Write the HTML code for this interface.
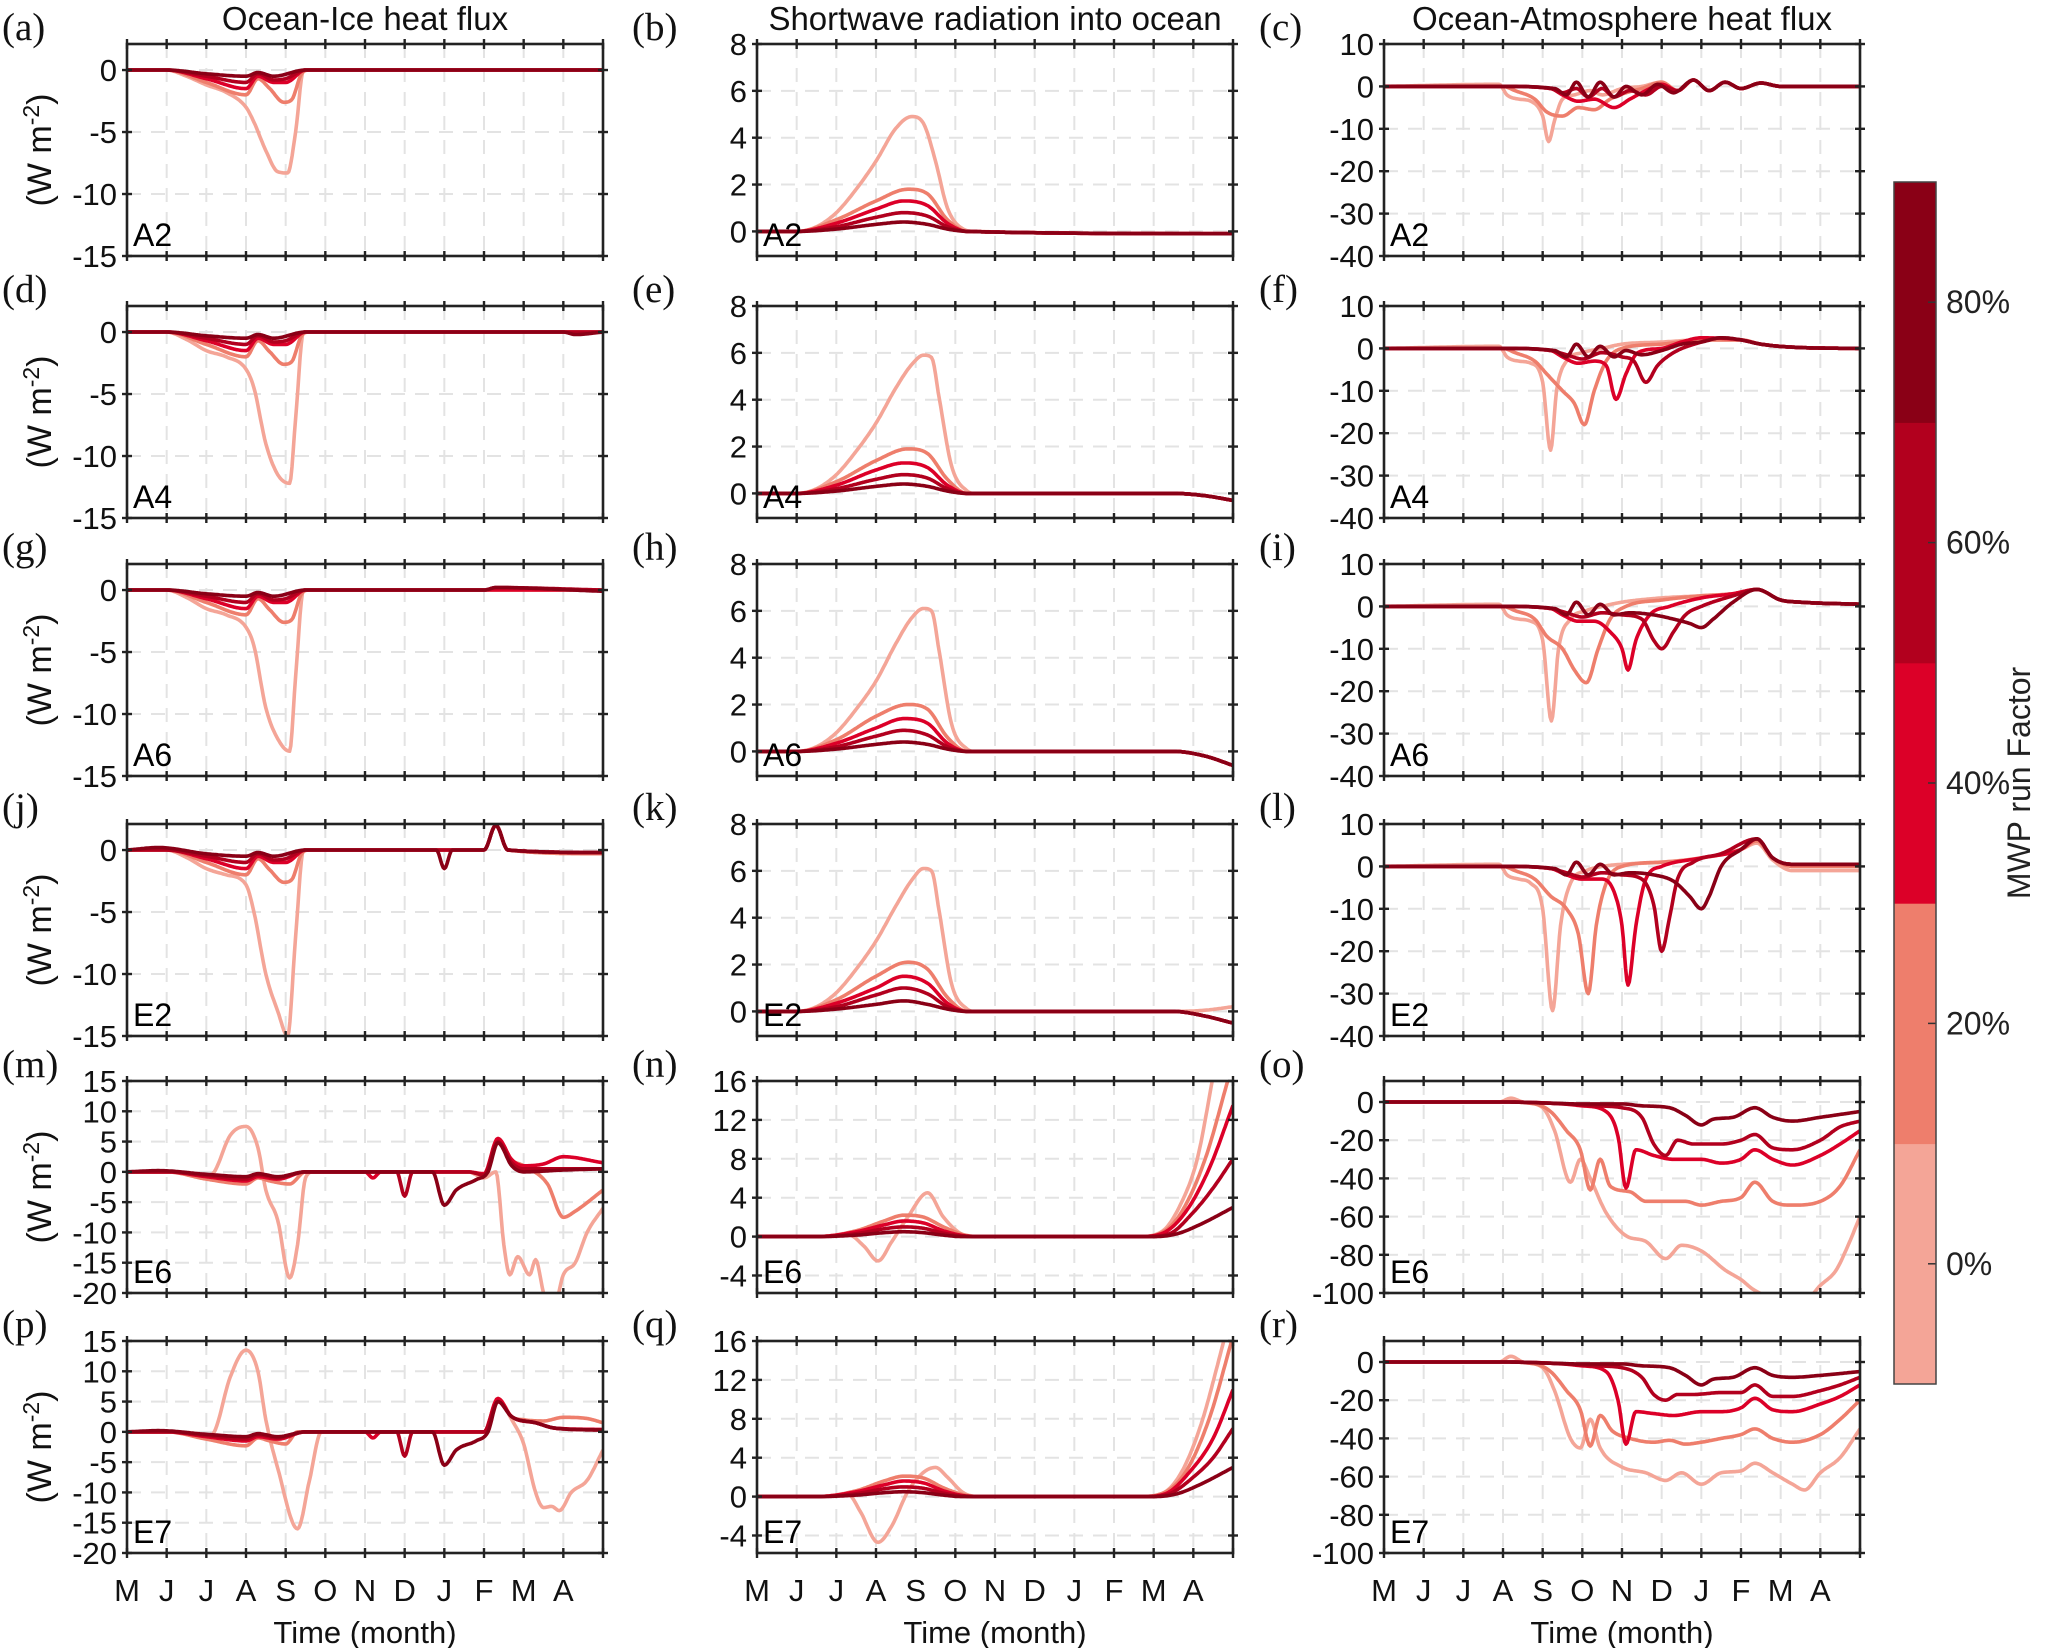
<!DOCTYPE html>
<html><head><meta charset="utf-8">
<style>
body{margin:0;background:#fff;}
svg{display:block;font-family:"Liberation Sans",sans-serif;}
</style></head>
<body>
<svg id="fig" width="2067" height="1648" viewBox="0 0 2067 1648" xmlns="http://www.w3.org/2000/svg"></svg>
<script>
// ---- data (time in months from 1 May, value in W m-2) ----
const monthLabels = ["M","J","J","A","S","O","N","D","J","F","M","A"];
const seriesNames = ["0%","20%","40%","60%","80%"];
const seriesColors = ["#f4a597","#ee7e6c","#dc0028","#b2001e","#8a0016"];
const panelLetters = ["a","b","c","d","e","f","g","h","i","j","k","l","m","n","o","p","q","r"];
const runNames = ["A2","A4","A6","E2","E6","E7"];
const colTitles = ["Ocean-Ice heat flux","Shortwave radiation into ocean","Ocean-Atmosphere heat flux"];
const cbTicks = ["0%","20%","40%","60%","80%"];

// column 1 : Ocean-Ice heat flux
const a_s0=[[0,0],[1,0],[1.5,-0.5],[2,-1.2],[2.5,-1.8],[3,-3],[3.2,-4.2],[3.5,-6.5],[3.8,-8.2],[4.05,-8.3],[4.25,-5],[4.45,0],[12,0]];
const a_s1=[[0,0],[1,0],[2,-1],[3,-2],[3.3,-0.7],[3.6,-1.5],[3.95,-2.6],[4.15,-2.4],[4.4,-0.3],[4.6,0],[12,0]];
const a_s2=[[0,0],[1,0],[2,-0.7],[3,-1.5],[3.3,-0.5],[3.7,-1],[4,-1],[4.5,0],[12,0]];
const a_s3=[[0,0],[1,0],[2,-0.5],[3,-1],[3.3,-0.3],[3.7,-0.8],[4,-0.7],[4.5,0],[12,0]];
const a_s4=[[0,0],[1,0],[2,-0.3],[3,-0.5],[3.3,-0.2],[3.7,-0.5],[4.5,0],[12,0]];
const d_s0=[[0,0],[1,0],[1.5,-0.6],[2,-1.5],[2.5,-2],[3,-3],[3.2,-4.5],[3.5,-9],[3.8,-11.5],[4.1,-12.2],[4.25,-7],[4.45,0],[12,0]];
const d_s1=[[0,0],[1,0],[2,-1],[3,-2],[3.3,-0.7],[3.6,-1.6],[3.95,-2.6],[4.15,-2.4],[4.4,-0.3],[4.6,0],[12,0]];
const d_s2=[[0,0],[1,0],[2,-0.7],[3,-1.5],[3.3,-0.5],[3.7,-1],[4,-1],[4.5,0],[12,0]];
const d_s3=[[0,0],[1,0],[2,-0.5],[3,-1],[3.3,-0.3],[3.7,-0.8],[4,-0.7],[4.5,0],[12,0]];
const d_s4=[[0,0],[1,0],[2,-0.3],[3,-0.5],[3.3,-0.2],[3.7,-0.5],[4.5,0],[11,0],[11.3,-0.2],[12,0]];
const g_s0=[[0,0],[1,0],[1.5,-0.6],[2,-1.5],[2.5,-2],[3,-3],[3.2,-4.5],[3.5,-9.5],[3.8,-12],[4.1,-13],[4.25,-7],[4.45,0],[12,0]];
const g_s1=[[0,0],[1,0],[2,-1],[3,-2],[3.3,-0.7],[3.6,-1.6],[3.95,-2.6],[4.15,-2.4],[4.4,-0.3],[4.6,0],[12,0]];
const g_s2=[[0,0],[1,0],[2,-0.7],[3,-1.5],[3.3,-0.5],[3.7,-1],[4,-1],[4.5,0],[12,0]];
const g_s3=[[0,0],[1,0],[2,-0.5],[3,-1],[3.3,-0.3],[3.7,-0.8],[4,-0.7],[4.5,0],[9,0],[9.3,0.2],[12,0]];
const g_s4=[[0,0],[1,0],[2,-0.3],[3,-0.5],[3.3,-0.2],[3.7,-0.5],[4.5,0],[9,0],[9.3,0.2],[12,-0.1]];
const j_s0=[[0,0],[1,0],[1.5,-0.6],[2,-1.5],[2.5,-2],[3,-2.8],[3.2,-5],[3.5,-10],[3.8,-13],[4.05,-15],[4.25,-7],[4.45,0],[9,0],[9.3,2],[9.6,0],[12,-0.3]];
const j_s1=[[0,0],[1,0],[2,-1],[3,-2],[3.3,-0.7],[3.6,-1.6],[3.95,-2.6],[4.15,-2.4],[4.4,-0.3],[4.6,0],[9,0],[9.3,2],[9.6,0],[12,-0.3]];
const j_s2=[[0,0],[1,0],[2,-0.7],[3,-1.5],[3.3,-0.5],[3.7,-1],[4,-1],[4.5,0],[9,0],[9.3,2],[9.6,0],[12,-0.2]];
const j_s3=[[0,0],[1,0],[2,-0.5],[3,-1],[3.3,-0.3],[3.7,-0.8],[4,-0.7],[4.5,0],[9,0],[9.3,2],[9.6,0],[12,-0.2]];
const j_s4=[[0,0],[0.8,0.2],[2,-0.3],[3,-0.5],[3.3,-0.2],[3.7,-0.5],[4.5,0],[7.8,0],[8,-1.5],[8.2,0],[9,0],[9.3,2],[9.6,0],[12,-0.2]];
const m_s0=[[0,0],[1,0],[2,-0.8],[2.2,0],[2.6,6],[3,7.5],[3.3,4],[3.5,-3],[3.8,-8],[4.1,-17.5],[4.3,-12],[4.5,-1],[4.7,0],[8.6,0],[9,-1],[9.3,0],[9.5,-12],[9.65,-17],[9.85,-14],[10.15,-17],[10.3,-14.5],[10.5,-20],[10.7,-24],[11,-17],[11.3,-15],[11.6,-10],[12,-6]];
const m_s1=[[0,0],[1,0],[2,-1.2],[3,-2],[3.3,-1],[3.6,-1.5],[4.1,-2],[4.5,0],[8.6,0],[9,-0.5],[9.35,5.5],[9.7,2],[10,1],[10.6,-2],[11,-7.5],[11.3,-6.5],[12,-3]];
const m_s2=[[0,0],[1,0],[2,-0.8],[3,-1.5],[3.3,-0.8],[3.8,-1.2],[4.5,0],[6,0],[6.2,-1],[6.4,0],[8.6,0],[9,-0.3],[9.35,5.5],[9.7,2],[10,1],[10.5,1.3],[11,2.5],[12,1.5]];
const m_s3=[[0,0],[1,0],[2,-0.6],[3,-1.2],[3.3,-0.5],[3.8,-1],[4.5,0],[6.8,0],[7,-4],[7.2,0],[8.6,0],[9,-0.5],[9.35,5],[9.7,1.5],[10,0.5],[11,0.5],[12,0.5]];
const m_s4=[[0,0],[0.8,0.2],[2,-0.4],[3,-0.8],[3.3,-0.3],[3.8,-0.8],[4.5,0],[7.7,0],[8,-5.5],[8.3,-3],[8.8,-1.3],[9.1,0],[9.35,4.8],[9.7,1],[10,0],[11,0.3],[12,0.5]];
const p_s0=[[0,0],[1,0],[2,-0.8],[2.2,0],[2.6,9],[3,13.5],[3.3,10],[3.5,2],[3.8,-6],[4.3,-16],[4.6,-8],[4.9,0],[9,0],[9.35,5.5],[9.7,2],[10,-2],[10.3,-10],[10.5,-12.5],[10.7,-12.3],[10.9,-13],[11.2,-10],[11.6,-8],[12,-3]];
const p_s1=[[0,0],[1,0],[2,-1.2],[3,-2.3],[3.3,-1],[3.6,-1.5],[4,-2],[4.3,0],[9,0],[9.35,5.5],[9.7,2.5],[10,2],[10.5,1.8],[11,2.4],[11.6,2.2],[12,1.5]];
const p_s2=[[0,0],[1,0],[2,-0.8],[3,-1.5],[3.3,-0.8],[3.8,-1.2],[4.5,0],[6,0],[6.2,-1],[6.4,0],[9,0],[9.35,5.5],[9.7,2.5],[10.3,1.5],[10.8,0.6],[12,0.4]];
const p_s3=[[0,0],[1,0],[2,-0.6],[3,-1.2],[3.3,-0.5],[3.8,-1],[4.5,0],[6.8,0],[7,-4],[7.2,0],[9,0],[9.35,5],[9.7,2.5],[10.3,1.5],[10.8,0.6],[12,0.3]];
const p_s4=[[0,0],[0.8,0.2],[2,-0.4],[3,-0.8],[3.3,-0.3],[3.8,-0.8],[4.5,0],[7.7,0],[8,-5.5],[8.3,-3],[8.8,-1.5],[9.1,0],[9.35,5],[9.7,2.5],[10.3,1.5],[10.8,0.6],[12,0.3]];
// column 2 : Shortwave
const b_s0=[[0,0],[1,0],[1.5,0.2],[2,0.8],[2.5,1.8],[3,3],[3.5,4.4],[3.9,4.9],[4.2,4.6],[4.5,3],[4.8,1],[5.2,0.1],[5.5,0],[12,-0.1]];
const b_s1=[[0,0],[1,0],[2,0.5],[3,1.3],[3.8,1.8],[4.3,1.6],[4.8,0.5],[5.3,0],[12,-0.1]];
const b_s2=[[0,0],[1,0],[2,0.35],[3,0.95],[3.7,1.3],[4.3,1.1],[4.8,0.35],[5.3,0],[12,-0.1]];
const b_s3=[[0,0],[1,0],[2,0.2],[3,0.6],[3.7,0.8],[4.3,0.65],[4.8,0.2],[5.3,0],[12,-0.1]];
const b_s4=[[0,0],[1,0],[2,0.1],[3,0.3],[3.7,0.4],[4.3,0.3],[4.8,0.1],[5.3,0],[12,-0.1]];
const e_s0=[[0,0],[1,0],[1.5,0.2],[2,0.8],[2.5,1.8],[3,3],[3.5,4.5],[3.9,5.5],[4.2,5.9],[4.4,5.8],[4.6,4],[4.9,1.2],[5.3,0.1],[5.5,0],[10.5,0],[11.3,-0.1],[12,-0.3]];
const e_s1=[[0,0],[1,0],[2,0.5],[3,1.4],[3.8,1.9],[4.3,1.7],[4.8,0.6],[5.3,0],[10.5,0],[11.3,-0.1],[12,-0.3]];
const e_s2=[[0,0],[1,0],[2,0.35],[3,1],[3.7,1.3],[4.3,1.1],[4.8,0.35],[5.3,0],[10.5,0],[11.3,-0.1],[12,-0.3]];
const e_s3=[[0,0],[1,0],[2,0.2],[3,0.6],[3.7,0.8],[4.3,0.65],[4.8,0.2],[5.3,0],[10.5,0],[11.3,-0.1],[12,-0.3]];
const e_s4=[[0,0],[1,0],[2,0.1],[3,0.3],[3.7,0.4],[4.3,0.3],[4.8,0.1],[5.3,0],[10.5,0],[11.3,-0.1],[12,-0.3]];
const h_s0=[[0,0],[1,0],[1.5,0.2],[2,0.8],[2.5,1.8],[3,3],[3.5,4.6],[3.9,5.7],[4.2,6.1],[4.4,6],[4.6,4.2],[4.9,1.2],[5.3,0.1],[5.5,0],[10.5,0],[11.3,-0.2],[12,-0.6]];
const h_s1=[[0,0],[1,0],[2,0.5],[3,1.5],[3.8,2],[4.3,1.8],[4.8,0.6],[5.3,0],[10.5,0],[11.3,-0.2],[12,-0.6]];
const h_s2=[[0,0],[1,0],[2,0.35],[3,1],[3.7,1.4],[4.3,1.2],[4.8,0.35],[5.3,0],[10.5,0],[11.3,-0.2],[12,-0.6]];
const h_s3=[[0,0],[1,0],[2,0.2],[3,0.65],[3.7,0.9],[4.3,0.7],[4.8,0.2],[5.3,0],[10.5,0],[11.3,-0.2],[12,-0.6]];
const h_s4=[[0,0],[1,0],[2,0.1],[3,0.3],[3.7,0.4],[4.3,0.3],[4.8,0.1],[5.3,0],[10.5,0],[11.3,-0.2],[12,-0.6]];
const k_s0=[[0,0],[1,0],[1.5,0.2],[2,0.8],[2.5,1.8],[3,3],[3.5,4.5],[3.9,5.6],[4.2,6.1],[4.4,6],[4.6,4.2],[4.9,1.2],[5.3,0.1],[5.5,0],[10.5,0],[11.3,0.05],[12,0.2]];
const k_s1=[[0,0],[1,0],[2,0.5],[3,1.5],[3.8,2.1],[4.3,1.8],[4.8,0.6],[5.3,0],[10.5,0],[11.3,-0.2],[12,-0.5]];
const k_s2=[[0,0],[1,0],[2,0.35],[3,1],[3.7,1.5],[4.3,1.2],[4.8,0.35],[5.3,0],[10.5,0],[11.3,-0.2],[12,-0.5]];
const k_s3=[[0,0],[1,0],[2,0.2],[3,0.7],[3.7,1],[4.3,0.75],[4.8,0.2],[5.3,0],[10.5,0],[11.3,-0.2],[12,-0.5]];
const k_s4=[[0,0],[1,0],[2,0.1],[3,0.3],[3.7,0.45],[4.3,0.3],[4.8,0.1],[5.3,0],[10.5,0],[11.3,-0.2],[12,-0.5]];
const n_s0=[[0,0],[1.5,0],[2.3,0.2],[2.7,-1],[3.05,-2.5],[3.4,-0.5],[3.8,2],[4.3,4.5],[4.7,2],[5.2,0.2],[5.6,0],[9.6,0],[10.2,0.5],[10.7,3.5],[11.1,8],[11.5,16.5]];
const n_s1=[[0,0],[1.5,0],[2.5,0.6],[3.2,1.6],[3.7,2.2],[4.2,2],[4.7,1],[5.2,0.2],[5.6,0],[9.6,0],[10.2,0.4],[10.7,2.5],[11.3,8],[11.9,16.5]];
const n_s2=[[0,0],[1.5,0],[2.5,0.5],[3.2,1.2],[3.7,1.6],[4.2,1.4],[4.7,0.6],[5.2,0.1],[5.6,0],[9.6,0],[10.2,0.3],[10.8,2.5],[11.4,7],[12,13.5]];
const n_s3=[[0,0],[1.5,0],[2.5,0.3],[3.2,0.8],[3.7,1],[4.2,0.85],[4.7,0.35],[5.2,0.05],[5.6,0],[9.8,0],[10.4,0.3],[11,2.5],[11.5,5],[12,8]];
const n_s4=[[0,0],[1.5,0],[2.5,0.15],[3.2,0.4],[3.7,0.5],[4.2,0.4],[4.7,0.15],[5.2,0],[10,0],[10.6,0.3],[11.2,1.3],[12,3]];
const q_s0=[[0,0],[1.5,0],[2.3,0.2],[2.6,-1.5],[3.05,-4.7],[3.4,-3],[3.8,0.5],[4.2,2.5],[4.5,3],[4.8,2],[5.2,0.4],[5.6,0],[9.6,0],[10.2,0.3],[10.7,2.5],[11.2,7.5],[11.8,16.5]];
const q_s1=[[0,0],[1.5,0],[2.5,0.6],[3.2,1.6],[3.7,2.1],[4.2,1.9],[4.7,0.9],[5.2,0.2],[5.6,0],[9.6,0],[10.2,0.3],[10.8,2.5],[11.4,8],[12,16.5]];
const q_s2=[[0,0],[1.5,0],[2.5,0.5],[3.2,1.2],[3.7,1.6],[4.2,1.4],[4.7,0.6],[5.2,0.1],[5.6,0],[9.7,0],[10.3,0.3],[10.9,2.5],[11.5,6],[12,11]];
const q_s3=[[0,0],[1.5,0],[2.5,0.3],[3.2,0.8],[3.7,1],[4.2,0.85],[4.7,0.35],[5.2,0.05],[5.6,0],[9.8,0],[10.4,0.3],[11,2],[11.5,4],[12,7]];
const q_s4=[[0,0],[1.5,0],[2.5,0.15],[3.2,0.4],[3.7,0.5],[4.2,0.4],[4.7,0.15],[5.2,0],[10,0],[10.6,0.3],[11.2,1.3],[12,3]];
// column 3 : Ocean-Atmosphere
const c_s0=[[0,0],[2.9,0.5],[3.1,-2],[3.4,-3],[3.7,-3.5],[4,-7],[4.15,-13],[4.3,-8],[4.5,-3],[4.8,-2],[5.2,-1],[5.5,-2],[6,-0.5],[6.5,0],[7,1],[7.4,-1],[7.8,1.5],[8.2,-1],[8.6,1],[9,-0.5],[9.5,0.8],[10,0],[12,0]];
const c_s1=[[0,0],[3,0],[3.3,-1],[3.8,-3],[4.1,-6],[4.5,-7],[4.9,-5],[5.3,-5.5],[5.7,-3],[6.1,-1.5],[6.5,-0.5],[7,1],[7.4,-1],[7.8,1.5],[8.2,-1],[8.6,1],[9,-0.5],[9.5,0.8],[10,0],[12,0]];
const c_s2=[[0,0],[3,0],[4.2,-0.5],[4.5,-2],[4.9,-3.5],[5.3,-3],[5.8,-5],[6.2,-3],[6.6,-1],[7,0.5],[7.4,-1],[7.8,1.5],[8.2,-1],[8.6,1],[9,-0.5],[9.5,0.8],[10,0],[12,0]];
const c_s3=[[0,0],[3,0],[4.2,-0.5],[4.5,-1.5],[4.85,-0.5],[5.15,-2.5],[5.5,-0.5],[5.8,-2.5],[6.2,-1],[6.6,-2],[7,0],[7.4,-1],[7.8,1.5],[8.2,-1],[8.6,1],[9,-0.5],[9.5,0.8],[10,0],[12,0]];
const c_s4=[[0,0],[3,0],[4.3,-0.5],[4.6,-2],[4.85,1],[5.15,-2.5],[5.45,1],[5.8,-2.5],[6.1,0],[6.5,-2],[6.9,0.5],[7.3,-1.5],[7.8,1.5],[8.2,-1],[8.6,1],[9,-0.5],[9.5,0.8],[10,0],[12,0]];
const f_s0=[[0,0],[2.9,0.5],[3.1,-2],[3.4,-3],[3.7,-3.5],[4,-8],[4.2,-24],[4.35,-10],[4.6,-3],[5,-1],[5.5,0],[6,1],[7,1.5],[8,2],[9,2],[9.5,1],[10.5,0.2],[12,0]];
const f_s1=[[0,0],[3,0],[3.3,-1],[3.8,-3],[4.1,-6],[4.5,-10],[4.8,-13],[5.05,-18],[5.3,-10],[5.6,-3],[6,0],[7,1],[8,2],[9,2],[9.5,1],[10.5,0.2],[12,0]];
const f_s2=[[0,0],[3,0],[4.2,-0.5],[4.5,-2],[4.9,-3.5],[5.3,-3],[5.6,-4],[5.85,-12],[6.1,-6],[6.4,-1],[7,0],[7.5,1.5],[8,2.5],[9,2],[9.5,1],[10.5,0.2],[12,0]];
const f_s3=[[0,0],[3,0],[4.2,-0.5],[4.6,-1.5],[5,-2.5],[5.5,-1],[6,-2],[6.3,-3],[6.6,-8],[6.9,-4],[7.3,-1],[8,1.5],[8.5,2.5],[9,2],[9.5,1],[10.5,0.2],[12,0]];
const f_s4=[[0,0],[3,0],[4.3,-0.5],[4.6,-2],[4.85,1],[5.15,-2],[5.45,0.5],[5.8,-2],[6.1,-0.5],[6.5,-1.5],[7,-0.5],[7.5,1],[8,1.5],[8.5,2.5],[9,2],[9.5,1],[10.5,0.2],[12,0]];
const i_s0=[[0,0],[2.9,0.5],[3.1,-2],[3.4,-3],[3.7,-3.5],[4,-8],[4.22,-27],[4.4,-10],[4.7,-3],[5.1,-1],[5.5,0],[6,1],[7,2],[8,2.5],[8.8,3],[9.4,4],[10,1.5],[10.5,1],[12,0.5]];
const i_s1=[[0,0],[3,0],[3.3,-1],[3.8,-3],[4.1,-7],[4.5,-10],[4.8,-15],[5.1,-18],[5.4,-10],[5.7,-3],[6.1,0],[7,1.5],[8,2.5],[8.8,3],[9.4,4],[10,1.5],[10.5,1],[12,0.5]];
const i_s2=[[0,0],[3,0],[4.2,-0.5],[4.5,-2],[4.9,-3.5],[5.3,-3.5],[5.7,-6],[6,-10],[6.15,-15],[6.35,-8],[6.7,-2],[7.2,0],[8,2],[8.8,3],[9.4,4],[10,1.5],[10.5,1],[12,0.5]];
const i_s3=[[0,0],[3,0],[4.2,-0.5],[4.6,-1.5],[5,-2.5],[5.5,-1.5],[6,-2],[6.5,-3],[6.8,-8],[7,-10],[7.3,-6],[7.6,-2],[8,0],[8.8,2.5],[9.4,4],[10,1.5],[10.5,1],[12,0.5]];
const i_s4=[[0,0],[3,0],[4.3,-0.5],[4.6,-2],[4.85,1],[5.15,-2],[5.45,0.5],[5.8,-2],[6.2,-1.5],[6.8,-2],[7.3,-3],[7.7,-4],[8,-5],[8.3,-3],[8.8,1],[9.4,4],[10,1.5],[10.5,1],[12,0.5]];
const l_s0=[[0,0],[2.9,0.5],[3.1,-2],[3.4,-3],[3.7,-4],[4,-10],[4.25,-34],[4.45,-14],[4.7,-4],[5.1,-1],[5.5,0],[6,0.5],[7,1],[8,2],[9,4],[9.4,5.5],[9.8,1.5],[10.3,-1],[12,-1]];
const l_s1=[[0,0],[3,0],[3.3,-1],[3.8,-3],[4.2,-7],[4.6,-10],[4.9,-16],[5.15,-30],[5.35,-14],[5.6,-4],[6,0],[7,1],[8,2],[9,4],[9.4,6],[9.8,2],[10.3,0],[12,0]];
const l_s2=[[0,0],[3,0],[4.2,-0.5],[4.6,-2],[5,-3],[5.5,-3],[5.8,-6],[6.0,-14],[6.15,-28],[6.35,-14],[6.6,-3],[7,0],[8,2],[9,4],[9.4,6.5],[9.8,2],[10.3,0.5],[12,0.5]];
const l_s3=[[0,0],[3,0],[4.2,-0.5],[4.6,-1.5],[5,-2.5],[5.5,-1.5],[6,-2],[6.5,-3],[6.8,-9],[7,-20],[7.2,-12],[7.4,-3],[7.8,1],[8.5,3],[9.4,6.5],[9.8,2],[10.3,0.5],[12,0.5]];
const l_s4=[[0,0],[3,0],[4.3,-0.5],[4.6,-2],[4.85,1],[5.15,-2],[5.45,0.5],[5.8,-2],[6.2,-1.5],[6.8,-2],[7.3,-3.5],[7.7,-7],[8,-10],[8.2,-7],[8.5,0],[9,4],[9.4,6.5],[9.8,2],[10.3,0.5],[12,0.5]];
const o_s0=[[0,0],[2.9,0],[3.2,2],[3.5,0],[4,-3],[4.3,-15],[4.7,-42],[4.95,-30],[5.2,-40],[5.6,-58],[6.1,-70],[6.6,-73],[7.1,-82],[7.5,-75],[8,-78],[8.6,-88],[9,-93],[9.3,-98],[9.7,-102],[10.6,-104],[11,-96],[11.4,-88],[11.7,-75],[12,-60]];
const o_s1=[[0,0],[3,0],[3.8,-1],[4.2,-5],[4.6,-15],[4.95,-25],[5.2,-46],[5.45,-30],[5.7,-44],[6.2,-47],[6.6,-52],[7.2,-52],[7.6,-52],[8,-54],[8.5,-52],[9,-50],[9.35,-42],[9.8,-52],[10.3,-54],[11,-52],[11.5,-44],[12,-25]];
const o_s2=[[0,0],[3,0],[4.5,-1],[5,-2],[5.6,-5],[5.9,-18],[6.1,-45],[6.35,-25],[6.8,-28],[7.3,-30],[8,-30],[8.5,-32],[9,-30],[9.35,-25],[9.8,-30],[10.3,-33],[11,-28],[11.5,-22],[12,-15]];
const o_s3=[[0,0],[3,0],[4.6,-1],[5.3,-2],[6,-3],[6.5,-8],[6.8,-22],[7.1,-28],[7.4,-20],[7.8,-22],[8.5,-22],[9,-20],[9.35,-17],[9.8,-24],[10.3,-25],[11,-20],[11.5,-13],[12,-10]];
const o_s4=[[0,0],[3,0],[5,-1],[6,-1],[6.5,-2],[7.2,-3],[7.6,-7],[8,-12],[8.3,-9],[8.8,-8],[9.35,-3],[9.8,-8],[10.3,-10],[11,-8],[12,-5]];
const r_s0=[[0,0],[2.9,0],[3.2,3],[3.5,0],[4,-3],[4.3,-15],[4.7,-40],[4.95,-45],[5.2,-30],[5.45,-45],[6,-55],[6.6,-58],[7.1,-62],[7.5,-58],[8,-64],[8.5,-58],[9,-57],[9.35,-53],[9.8,-58],[10.3,-64],[10.6,-67],[11,-58],[11.5,-50],[12,-35]];
const r_s1=[[0,0],[3,0],[3.8,-1],[4.2,-5],[4.6,-15],[4.95,-25],[5.2,-44],[5.45,-28],[5.75,-36],[6.2,-40],[6.8,-42],[7.2,-41],[7.6,-43],[8,-42],[8.5,-40],[9,-38],[9.35,-35],[9.8,-40],[10.3,-42],[11,-38],[11.5,-30],[12,-20]];
const r_s2=[[0,0],[3,0],[4.5,-1],[5,-2],[5.6,-5],[5.9,-20],[6.1,-43],[6.35,-26],[6.8,-27],[7.3,-28],[8,-26],[8.5,-26],[9,-24],[9.35,-19],[9.8,-25],[10.3,-26],[11,-22],[11.5,-18],[12,-12]];
const r_s3=[[0,0],[3,0],[4.6,-1],[5.3,-2],[6,-3],[6.5,-8],[6.8,-17],[7.1,-20],[7.4,-17],[7.8,-17],[8.5,-16],[9,-16],[9.35,-12],[9.8,-18],[10.3,-18],[11,-15],[11.5,-12],[12,-8]];
const r_s4=[[0,0],[3,0],[5,-1],[6,-1],[6.5,-2],[7.2,-3],[7.6,-7],[8,-12],[8.3,-9],[8.8,-8],[9.35,-3],[9.8,-7],[10.3,-8],[11,-7],[12,-5]];

const panelSeries=[[a_s0,a_s1,a_s2,a_s3,a_s4],[b_s0,b_s1,b_s2,b_s3,b_s4],[c_s0,c_s1,c_s2,c_s3,c_s4],
[d_s0,d_s1,d_s2,d_s3,d_s4],[e_s0,e_s1,e_s2,e_s3,e_s4],[f_s0,f_s1,f_s2,f_s3,f_s4],
[g_s0,g_s1,g_s2,g_s3,g_s4],[h_s0,h_s1,h_s2,h_s3,h_s4],[i_s0,i_s1,i_s2,i_s3,i_s4],
[j_s0,j_s1,j_s2,j_s3,j_s4],[k_s0,k_s1,k_s2,k_s3,k_s4],[l_s0,l_s1,l_s2,l_s3,l_s4],
[m_s0,m_s1,m_s2,m_s3,m_s4],[n_s0,n_s1,n_s2,n_s3,n_s4],[o_s0,o_s1,o_s2,o_s3,o_s4],
[p_s0,p_s1,p_s2,p_s3,p_s4],[q_s0,q_s1,q_s2,q_s3,q_s4],[r_s0,r_s1,r_s2,r_s3,r_s4]];
const yTicksTop=[[0,-5,-10,-15],[0,2,4,6,8],[10,0,-10,-20,-30,-40]];
const yTicksBot=[[15,10,5,0,-5,-10,-15,-20],[16,12,8,4,0,-4],[0,-20,-40,-60,-80,-100]];
const yRangeTop=[[-15,2.1],[-1.05,8],[-40,10]];
const yRangeBot=[[-20,15],[-5.8,16],[-100,11]];

// ---- layout ----
const NS="http://www.w3.org/2000/svg";
const svg=document.getElementById('fig');
const colX=[127,757,1384], colW=476;
const rowY=[44,306,564,824,1081,1341], rowH=212;
function el(tag,attrs,parent){const e=document.createElementNS(NS,tag);for(const k in attrs)e.setAttribute(k,attrs[k]);(parent||svg).appendChild(e);return e;}
function txt(s,attrs,parent){const t=el('text',attrs,parent);t.textContent=s;return t;}

function monotone(pts){
  const n=pts.length,x=pts.map(p=>p[0]),y=pts.map(p=>p[1]);
  const d=[],m=[];
  for(let i=0;i<n-1;i++)d.push((y[i+1]-y[i])/(x[i+1]-x[i]));
  m[0]=d[0];m[n-1]=d[n-2];
  for(let i=1;i<n-1;i++)m[i]=(d[i-1]*d[i]<=0)?0:(d[i-1]+d[i])/2;
  for(let i=0;i<n-1;i++){if(d[i]===0){m[i]=0;m[i+1]=0;continue;}
    const a=m[i]/d[i],b=m[i+1]/d[i],s=a*a+b*b;if(s>9){const t=3/Math.sqrt(s);m[i]=t*a*d[i];m[i+1]=t*b*d[i];}}
  const out=[];
  for(let i=0;i<n-1;i++){const h=x[i+1]-x[i];const N=Math.max(2,Math.ceil(h*30));
    for(let k=0;k<N;k++){const t=k/N,t2=t*t,t3=t2*t;
      out.push([x[i]+t*h,(2*t3-3*t2+1)*y[i]+(t3-2*t2+t)*h*m[i]+(-2*t3+3*t2)*y[i+1]+(t3-t2)*h*m[i+1]]);}}
  out.push([x[n-1],y[n-1]]);return out;
}

colTitles.forEach((t,c)=>{
  const e=txt(t,{x:colX[c]+colW/2,y:30,'font-size':33,'text-anchor':'middle',fill:'#111'});
  
  
});

for(let r=0;r<6;r++)for(let c=0;c<3;c++){
  const idx=r*3+c, x0=colX[c], y0=rowY[r];
  const bot=r>=4, rng=bot?yRangeBot[c]:yRangeTop[c], ticks=bot?yTicksBot[c]:yTicksTop[c];
  const g=el('g',{});
  
  
  const sx=t=>x0+t/12*colW, sy=v=>y0+rowH-(v-rng[0])/(rng[1]-rng[0])*rowH;
  for(let k=1;k<12;k++){const gl=el('line',{x1:sx(k),x2:sx(k),y1:y0,y2:y0+rowH,stroke:'#e3e3e3','stroke-width':2,'stroke-dasharray':'14,10'},g);
    }
  ticks.forEach(v=>{const gl=el('line',{x1:x0,x2:x0+colW,y1:sy(v),y2:sy(v),stroke:'#e3e3e3','stroke-width':2,'stroke-dasharray':'14,10'},g);
    });
  const cp=el('clipPath',{id:'cp'+idx},g);el('rect',{x:x0,y:y0,width:colW,height:rowH},cp);
  const lg=el('g',{'clip-path':'url(#cp'+idx+')'},g);
  panelSeries[idx].forEach((s,si)=>{
    const pts=monotone(s);
    const d=pts.map((p,i)=>(i?'L':'M')+sx(p[0]).toFixed(1)+','+sy(p[1]).toFixed(1)).join('');
    const pe=el('path',{d:d,fill:'none',stroke:seriesColors[si],'stroke-width':3.6,'stroke-linejoin':'round'},lg);
    
    
  });
  const bx=el('rect',{x:x0,y:y0,width:colW,height:rowH,fill:'none',stroke:'#222','stroke-width':2.6},g);
  
  for(let k=0;k<=12;k++){el('line',{x1:sx(k),x2:sx(k),y1:y0+rowH+5,y2:y0+rowH-5,stroke:'#222','stroke-width':2.4},g);
    el('line',{x1:sx(k),x2:sx(k),y1:y0-5,y2:y0+5,stroke:'#222','stroke-width':2.4},g);}
  ticks.forEach(v=>{el('line',{x1:x0-5,x2:x0+5,y1:sy(v),y2:sy(v),stroke:'#222','stroke-width':2.4},g);
    el('line',{x1:x0+colW-5,x2:x0+colW+5,y1:sy(v),y2:sy(v),stroke:'#222','stroke-width':2.4},g);
    const tl=txt(String(v),{x:x0-10,y:sy(v)+11,'font-size':31,'text-anchor':'end',fill:'#111'},g);
    });
  const rl=txt(runNames[r],{x:x0+6,y:y0+rowH-10,'font-size':32,fill:'#000'},g);
  
  const pl=txt('('+panelLetters[idx]+')',{x:x0-125,y:y0-4,'font-size':39,'font-family':'Liberation Serif, serif',fill:'#111'},g);
  
  if(c===0){const yt=el('text',{transform:'translate('+(x0-76)+','+(y0+rowH/2)+') rotate(-90)','font-size':34,'text-anchor':'middle',fill:'#111'},g);
    yt.textContent='(W m';const sup=el('tspan',{dy:-12,'font-size':23},yt);sup.textContent='-2';const cl=el('tspan',{dy:12},yt);cl.textContent=')';
    }
  if(r===5){monthLabels.forEach((mth,k)=>{const ml=txt(mth,{x:sx(k),y:y0+rowH+48,'font-size':31,'text-anchor':'middle',fill:'#111'},g);
      });
    const xt=txt('Time (month)',{x:x0+colW/2,y:y0+rowH+90,'font-size':31,'text-anchor':'middle',fill:'#111'},g);
    }
}

const cbX=1894,cbY=182,cbW=42,cbH=1202;
const cbg=el('g',{});


seriesColors.forEach((col,i)=>{const seg=cbH/5;el('rect',{x:cbX,y:cbY+cbH-(i+1)*seg,width:cbW,height:seg+0.5,fill:col},cbg);
  el('line',{x1:cbX+cbW-8,x2:cbX+cbW,y1:cbY+cbH-(i+0.5)*seg,y2:cbY+cbH-(i+0.5)*seg,stroke:'#333','stroke-width':1.5},cbg);
  const lb=txt(cbTicks[i],{x:cbX+cbW+10,y:cbY+cbH-(i+0.5)*seg+11,'font-size':32,fill:'#222'},cbg);
  });
el('rect',{x:cbX,y:cbY,width:cbW,height:cbH,fill:'none',stroke:'#444','stroke-width':1.5},cbg);
const cbt=txt('MWP run Factor',{transform:'translate(2030,783) rotate(-90)','font-size':32,'text-anchor':'middle',fill:'#222'},cbg);

</script>
</body></html>
